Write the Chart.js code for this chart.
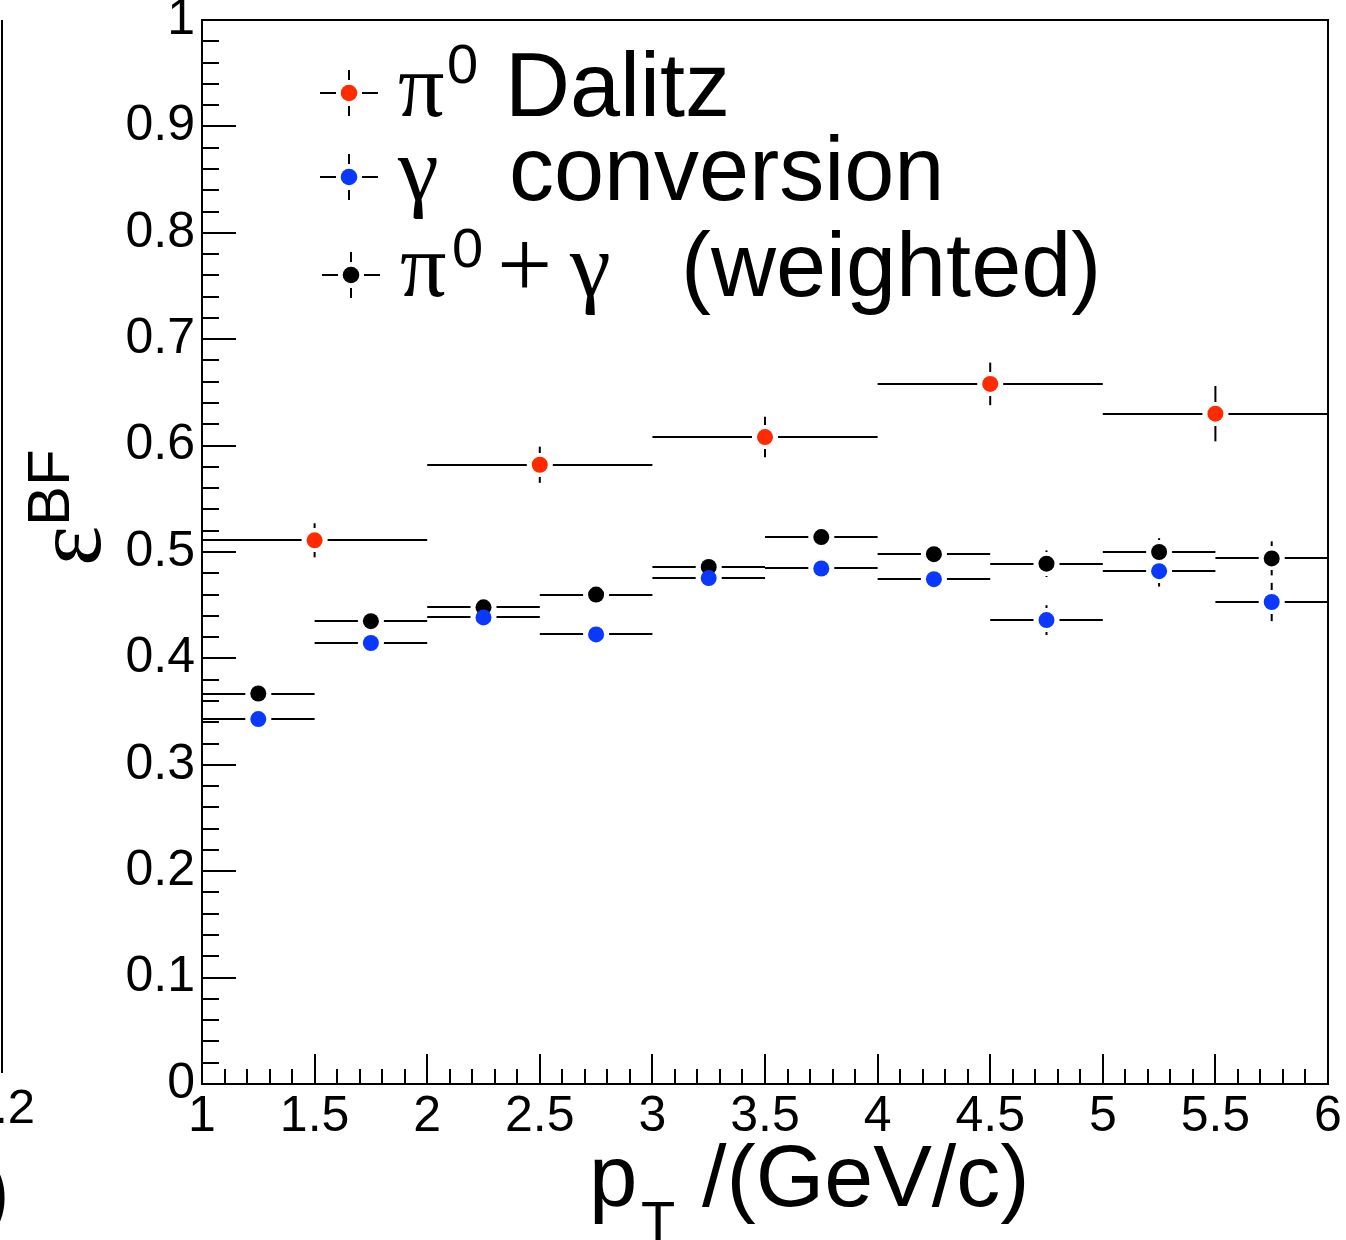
<!DOCTYPE html>
<html>
<head>
<meta charset="utf-8">
<script src="https://cdn.jsdelivr.net/npm/chart.js@4.4.1/dist/chart.umd.min.js"></script>
<style>
  html, body { margin: 0; padding: 0; background: #fff; overflow: hidden; }
  canvas { display: block; }
</style>
</head>
<body>
<canvas id="c" width="1346" height="1240"></canvas>
<script>
// pT bins (GeV/c)
const wideBinCenters = [1.5, 2.5, 3.5, 4.5, 5.5];
const wideBinHalfWidth = 0.5;
const narrowBinCenters = [1.25, 1.75, 2.25, 2.75, 3.25, 3.75, 4.25, 4.75, 5.25, 5.75];
const narrowBinHalfWidth = 0.25;

// pi0 Dalitz efficiency and its uncertainty
const dalitzEff = [0.511, 0.582, 0.608, 0.658, 0.630];
const dalitzErr = [0.016, 0.017, 0.019, 0.020, 0.026];

// gamma conversion efficiency and its uncertainty
const conversionEff = [0.343, 0.4145, 0.4385, 0.4225, 0.4755, 0.4845, 0.4745, 0.436, 0.482, 0.453];
const conversionErr = [0.006, 0.006, 0.006, 0.007, 0.007, 0.008, 0.009, 0.014, 0.0145, 0.018];

// weighted pi0 + gamma efficiency and its uncertainty
const combinedEff = [0.367, 0.435, 0.448, 0.460, 0.486, 0.514, 0.498, 0.489, 0.500, 0.494];
const combinedErr = [0.006, 0.006, 0.006, 0.007, 0.007, 0.008, 0.008, 0.0125, 0.013, 0.016];

// axis ticks
const xTickValues = [1, 1.5, 2, 2.5, 3, 3.5, 4, 4.5, 5, 5.5, 6];
const xTickLabels = ['1', '1.5', '2', '2.5', '3', '3.5', '4', '4.5', '5', '5.5', '6'];
const yTickValues = [0, 0.1, 0.2, 0.3, 0.4, 0.5, 0.6, 0.7, 0.8, 0.9, 1];
const yTickLabels = ['0', '0.1', '0.2', '0.3', '0.4', '0.5', '0.6', '0.7', '0.8', '0.9', '1'];

const RED = '#ff2a00';
const BLUE = '#0a38ff';
const BLACK = '#000000';

function points(centers, halfWidth, values, errors) {
  return centers.map((c, i) => ({ x: c, y: values[i], hw: halfWidth, err: errors[i] }));
}

const SANS = '"Liberation Sans", Arial, Helvetica, sans-serif';
const SERIF = '"Liberation Serif", "Times New Roman", serif';

// Error bars in ROOT style: full bin width horizontally, with a gap around the marker
const H_GAP = 13, V_GAP = 12;
const errorBars = {
  id: 'errorBars',
  beforeDatasetsDraw(chart) {
    const { ctx, scales: { x, y } } = chart;
    ctx.save();
    ctx.strokeStyle = '#000';
    ctx.lineWidth = 2;
    const seg = (x1, y1, x2, y2) => { ctx.beginPath(); ctx.moveTo(x1, y1); ctx.lineTo(x2, y2); ctx.stroke(); };
    chart.data.datasets.forEach(ds => {
      ds.data.forEach(p => {
        const px = x.getPixelForValue(p.x);
        const py = Math.round(y.getPixelForValue(p.y));
        const xl = x.getPixelForValue(p.x - p.hw);
        const xr = x.getPixelForValue(p.x + p.hw);
        const yt = y.getPixelForValue(p.y + p.err);
        const yb = y.getPixelForValue(p.y - p.err);
        if (px - H_GAP > xl) seg(xl, py, px - H_GAP, py);
        if (xr > px + H_GAP) seg(px + H_GAP, py, xr, py);
        if (py - yt > V_GAP) {
          seg(px, yt, px, py - V_GAP);
          seg(px, py + V_GAP, px, yb);
        }
      });
    });
    ctx.restore();
  }
};

// Frame, inward ticks, axis titles and legend
const decorations = {
  id: 'decorations',
  afterDraw(chart) {
    const { ctx, chartArea: a, scales: { x, y } } = chart;
    ctx.save();
    ctx.strokeStyle = '#000';
    ctx.fillStyle = '#000';
    ctx.lineWidth = 2;
    const seg = (x1, y1, x2, y2) => { ctx.beginPath(); ctx.moveTo(x1, y1); ctx.lineTo(x2, y2); ctx.stroke(); };

    // frame
    ctx.strokeRect(a.left, a.top, a.right - a.left, a.bottom - a.top);

    // y ticks: major every 0.1, minor every 0.02
    for (let k = 0; k <= 50; k++) {
      const py = Math.round(y.getPixelForValue(k * 0.02));
      seg(a.left, py, a.left + (k % 5 === 0 ? 34 : 17), py);
    }
    // x ticks: major every 0.5, minor every 0.1
    for (let k = 0; k <= 50; k++) {
      const px = Math.round(x.getPixelForValue(1 + k * 0.1));
      seg(px, a.bottom, px, a.bottom - (k % 5 === 0 ? 30 : 15));
    }

    // x title: p_T /(GeV/c)
    ctx.textAlign = 'left';
    ctx.textBaseline = 'alphabetic';
    ctx.font = '87px ' + SANS;
    ctx.fillText('p', 589, 1206);
    ctx.font = '56px ' + SANS;
    ctx.fillText('T', 641, 1240);
    ctx.font = '88px ' + SANS;
    ctx.fillText('/(GeV/c)', 702, 1206);

    // y title: epsilon^BF, rotated
    ctx.save();
    ctx.translate(100, 566);
    ctx.rotate(-Math.PI / 2);
    ctx.font = '96px ' + SERIF;
    ctx.fillText('\u03B5', 0, 0);
    ctx.font = '60px ' + SANS;
    ctx.fillText('BF', 40, -31);
    ctx.restore();

    // legend
    const ds = chart.data.datasets;
    const marker = (cx, cy, color) => {
      seg(cx - 29, cy, cx - 13, cy);
      seg(cx + 13, cy, cx + 29, cy);
      seg(cx, cy - 23, cx, cy - 13);
      seg(cx, cy + 13, cx, cy + 23);
      ctx.beginPath();
      ctx.arc(cx, cy, 8.3, 0, Math.PI * 2);
      ctx.fillStyle = color;
      ctx.fill();
      ctx.fillStyle = '#000';
    };
    marker(349, 93, ds[0].backgroundColor);
    marker(349, 177, ds[1].backgroundColor);
    marker(351, 275, ds[2].backgroundColor);

    // row 1: pi0 Dalitz
    ctx.font = '92px ' + SERIF;
    ctx.fillText('\u03C0', 398, 116);
    ctx.font = '56px ' + SANS;
    ctx.fillText('0', 447, 83);
    ctx.font = '90px ' + SANS;
    ctx.fillText('Dalitz', 505, 116);

    // row 2: gamma conversion
    ctx.font = '92px ' + SERIF;
    ctx.fillText('\u03B3', 398, 200);
    ctx.font = '90px ' + SANS;
    ctx.fillText('conversion', 509, 200);

    // row 3: pi0 + gamma (weighted)
    ctx.font = '92px ' + SERIF;
    ctx.fillText('\u03C0', 400, 296);
    ctx.font = '56px ' + SANS;
    ctx.fillText('0', 452, 267);
    ctx.font = '98px ' + SERIF;
    ctx.fillText('+', 497, 297);
    ctx.font = '92px ' + SERIF;
    ctx.fillText('\u03B3', 570, 296);
    ctx.font = '90px ' + SANS;
    ctx.fillText('(weighted)', 681, 296);

    // edge of the neighbouring panel
    seg(2, 20, 2, 1073);
    ctx.textAlign = 'right';
    ctx.font = '49px ' + SANS;
    ctx.fillText('.2', 35, 1123);
    ctx.font = '86px ' + SANS;
    ctx.fillText(')', 10, 1220);

    ctx.restore();
  }
};

const tickFont = { family: SANS, size: 50 };

new Chart(document.getElementById('c'), {
  type: 'scatter',
  data: {
    datasets: [
      {
        label: 'pi0 Dalitz',
        data: points(wideBinCenters, wideBinHalfWidth, dalitzEff, dalitzErr),
        backgroundColor: RED, pointBackgroundColor: RED,
        pointRadius: 8, pointBorderWidth: 0, pointHoverRadius: 8, order: 2
      },
      {
        label: 'gamma conversion',
        data: points(narrowBinCenters, narrowBinHalfWidth, conversionEff, conversionErr),
        backgroundColor: BLUE, pointBackgroundColor: BLUE,
        pointRadius: 8, pointBorderWidth: 0, pointHoverRadius: 8, order: 0
      },
      {
        label: 'pi0 + gamma (weighted)',
        data: points(narrowBinCenters, narrowBinHalfWidth, combinedEff, combinedErr),
        backgroundColor: BLACK, pointBackgroundColor: BLACK,
        pointRadius: 8, pointBorderWidth: 0, pointHoverRadius: 8, order: 1
      }
    ]
  },
  options: {
    responsive: false,
    animation: false,
    devicePixelRatio: 1,
    events: [],
    layout: { padding: { top: 20, right: 18, left: 0, bottom: 0 } },
    plugins: { legend: { display: false }, tooltip: { enabled: false } },
    scales: {
      x: {
        type: 'linear', position: 'bottom', min: 1, max: 6,
        afterBuildTicks(s) { s.ticks = xTickValues.map(v => ({ value: v })); },
        afterFit(s) { s.height = 156; s.paddingLeft = 0; s.paddingRight = 0; },
        ticks: { autoSkip: false, maxRotation: 0, padding: 3, font: tickFont, color: '#000',
                 callback: (v, i) => xTickLabels[i] },
        grid: { display: false, drawTicks: false },
        border: { display: false }
      },
      y: {
        type: 'linear', position: 'left', min: 0, max: 1,
        afterBuildTicks(s) { s.ticks = yTickValues.map(v => ({ value: v })); },
        afterFit(s) { s.width = 202; s.paddingTop = 0; s.paddingBottom = 0; },
        ticks: { autoSkip: false, padding: 7, font: tickFont, color: '#000',
                 callback: (v, i) => yTickLabels[i] },
        grid: { display: false, drawTicks: false },
        border: { display: false }
      }
    }
  },
  plugins: [errorBars, decorations]
});
</script>
</body>
</html>
